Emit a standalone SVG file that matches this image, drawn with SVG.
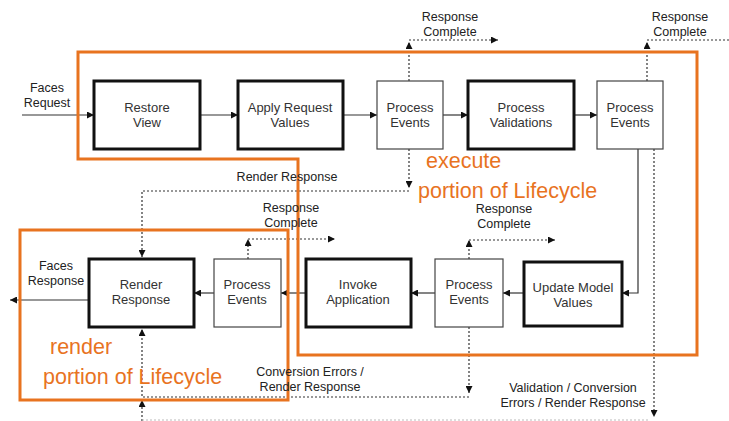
<svg xmlns="http://www.w3.org/2000/svg" width="729" height="421" viewBox="0 0 729 421">
<style>
.bg{fill:#fff}
.thick{fill:#fff;stroke:#111;stroke-width:3}
.thin{fill:#fff;stroke:#444;stroke-width:1.2}
.lbl{font-family:"Liberation Sans",Arial,sans-serif;font-size:13px;fill:#333;text-anchor:middle}
.ann{font-family:"Liberation Sans",Arial,sans-serif;font-size:12.5px;fill:#222;text-anchor:middle}
.org{font-family:"Liberation Sans",Arial,sans-serif;font-size:21.5px;fill:#E8731F}
.solid{fill:none;stroke:#333;stroke-width:1.2}
.dot{fill:none;stroke:#333;stroke-width:1.2;stroke-dasharray:2 2}
.faint{fill:none;stroke:#bbb;stroke-width:1;stroke-dasharray:2 2}
.outline{fill:none;stroke:#E8731F;stroke-width:3}
</style>
<defs>
<marker id="ah" viewBox="0 0 10 10" refX="10" refY="5" markerWidth="8" markerHeight="7" markerUnits="userSpaceOnUse" orient="auto">
<path d="M0,0 L10,5 L0,10 z" fill="#111"/>
</marker>
</defs>
<rect class="bg" x="0" y="0" width="729" height="421"/>

<g id="connectors">
<path class="solid" d="M22,115 H94" marker-end="url(#ah)"/>
<path class="solid" d="M200,115 H238" marker-end="url(#ah)"/>
<path class="solid" d="M343,115 H377" marker-end="url(#ah)"/>
<path class="solid" d="M443,115 H468" marker-end="url(#ah)"/>
<path class="solid" d="M574,115 H597" marker-end="url(#ah)"/>
<path class="solid" d="M638,149 V293 H622" marker-end="url(#ah)"/>
<path class="solid" d="M524,293 H503" marker-end="url(#ah)"/>
<path class="solid" d="M435,293 H411" marker-end="url(#ah)"/>
<path class="solid" d="M306,293 H281" marker-end="url(#ah)"/>
<path class="solid" d="M214,293 H194" marker-end="url(#ah)"/>
<path class="solid" d="M89,300 H10" marker-end="url(#ah)"/>
<path class="dot" d="M409,81 V42" marker-end="url(#ah)"/>
<path class="dot" d="M409,40 H498" marker-end="url(#ah)"/>
<path class="dot" d="M647,81 V42" marker-end="url(#ah)"/>
<path class="dot" d="M647,40 H729"/>
<path class="dot" d="M248,259 V239" marker-end="url(#ah)"/>
<path class="dot" d="M248,239 H335" marker-end="url(#ah)"/>
<path class="dot" d="M469,259 V240" marker-end="url(#ah)"/>
<path class="dot" d="M469,240 H555" marker-end="url(#ah)"/>
<path class="dot" d="M409,149 V188" marker-end="url(#ah)"/>
<path class="dot" d="M409,191 H142 V257" marker-end="url(#ah)"/>
<path class="dot" d="M469,327 V393" marker-end="url(#ah)"/>
<path class="dot" d="M469,397 H142 V329" marker-end="url(#ah)"/>
<path class="dot" d="M142,421 V400" marker-end="url(#ah)"/>
<path class="dot" d="M654,149 V417" marker-end="url(#ah)"/>
<path class="faint" d="M142,420 H650"/>
</g>

<g id="outlines">
<path class="outline" d="M78,52 H697 V355 H298 V159 H78 Z"/>
<rect class="outline" x="20" y="230" width="268" height="170"/>
</g>

<g id="restore-view">
<rect class="thick" x="94" y="81" width="106" height="68"/>
<text class="lbl" x="147" y="112">Restore</text>
<text class="lbl" x="147" y="127">View</text>
</g>
<g id="apply-request-values">
<rect class="thick" x="238" y="81" width="105" height="68"/>
<text class="lbl" x="290" y="112">Apply Request</text>
<text class="lbl" x="290" y="127">Values</text>
</g>
<g id="process-events-1">
<rect class="thin" x="377" y="81" width="66" height="68"/>
<text class="lbl" x="410" y="112">Process</text>
<text class="lbl" x="410" y="127">Events</text>
</g>
<g id="process-validations">
<rect class="thick" x="468" y="81" width="106" height="68"/>
<text class="lbl" x="521" y="112">Process</text>
<text class="lbl" x="521" y="127">Validations</text>
</g>
<g id="process-events-2">
<rect class="thin" x="597" y="81" width="66" height="68"/>
<text class="lbl" x="630" y="112">Process</text>
<text class="lbl" x="630" y="127">Events</text>
</g>
<g id="render-response">
<rect class="thick" x="89" y="259" width="105" height="68"/>
<text class="lbl" x="141" y="289">Render</text>
<text class="lbl" x="141" y="304">Response</text>
</g>
<g id="process-events-3">
<rect class="thin" x="214" y="259" width="67" height="68"/>
<text class="lbl" x="247" y="289">Process</text>
<text class="lbl" x="247" y="304">Events</text>
</g>
<g id="invoke-application">
<rect class="thick" x="306" y="259" width="105" height="68"/>
<text class="lbl" x="358" y="289">Invoke</text>
<text class="lbl" x="358" y="304">Application</text>
</g>
<g id="process-events-4">
<rect class="thin" x="435" y="259" width="68" height="68"/>
<text class="lbl" x="469" y="289">Process</text>
<text class="lbl" x="469" y="304">Events</text>
</g>
<g id="update-model-values">
<rect class="thick" x="524" y="262" width="98" height="64"/>
<text class="lbl" x="573" y="292">Update Model</text>
<text class="lbl" x="573" y="307">Values</text>
</g>

<g id="labels">
<text class="ann" x="47" y="92">Faces</text>
<text class="ann" x="47" y="107">Request</text>
<text class="ann" x="56" y="270">Faces</text>
<text class="ann" x="56" y="285">Response</text>
<text class="ann" x="450" y="21">Response</text>
<text class="ann" x="450" y="36">Complete</text>
<text class="ann" x="680" y="21">Response</text>
<text class="ann" x="680" y="36">Complete</text>
<text class="ann" x="291" y="212">Response</text>
<text class="ann" x="291" y="227">Complete</text>
<text class="ann" x="504" y="213">Response</text>
<text class="ann" x="504" y="228">Complete</text>
<text class="ann" x="287" y="181">Render Response</text>
<text class="ann" x="310" y="376">Conversion Errors /</text>
<text class="ann" x="310" y="391">Render Response</text>
<text class="ann" x="573" y="392">Validation / Conversion</text>
<text class="ann" x="573" y="407">Errors / Render Response</text>
<text class="org" x="426" y="168">execute</text>
<text class="org" x="418" y="198">portion of Lifecycle</text>
<text class="org" x="50" y="354">render</text>
<text class="org" x="43" y="384">portion of Lifecycle</text>
</g>
</svg>
